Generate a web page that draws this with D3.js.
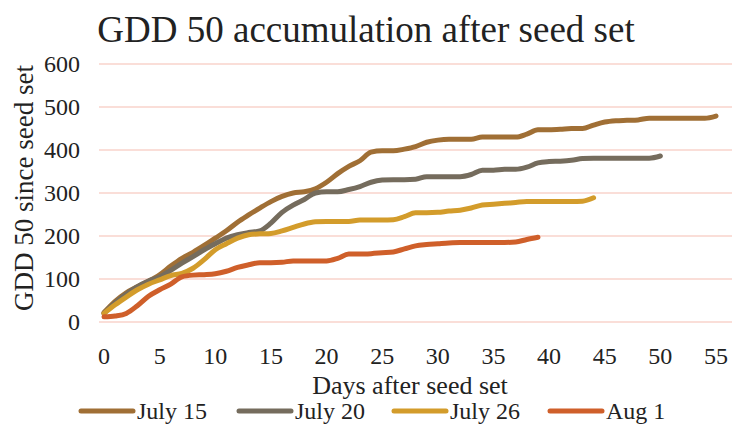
<!DOCTYPE html>
<html>
<head>
<meta charset="utf-8">
<script src="https://cdn.jsdelivr.net/npm/d3@7"></script>
<style>
  body { margin: 0; background: #fff; }
  text { font-family: "Liberation Serif", "Times New Roman", serif; fill: #222; }
</style>
</head>
<body>
<div id="chart"></div>
<script>
var w = 732;
var h = 426;

// data, one value per day after seed set
var seriesNames = ["July 15", "July 20", "July 26", "Aug 1"];
var seriesColors = ["#A06F35", "#756C5D", "#D39C2B", "#CF5F2A"];
var july15 = [22,48,68,82,95,110,130,148,162,178,195,212,232,249,265,280,292,300,303,310,325,345,362,375,395,398,398,402,408,418,423,425,425,425,430,430,430,430,437,447,447,448,450,450,458,465,468,469,470,474,474,474,474,474,474,479];
var july20 = [20,45,65,82,95,105,120,137,152,168,182,195,203,208,212,230,255,272,285,300,303,303,308,315,325,330,331,331,332,338,338,338,338,343,353,353,355,355,360,370,373,374,376,380,381,381,381,381,381,381,386];
var july26 = [20,40,58,75,88,98,108,113,125,145,168,182,195,203,205,206,212,220,228,233,234,234,234,237,237,237,238,245,254,254,255,258,260,265,272,274,276,278,280,280,280,280,280,281,289];
var aug1 = [12,14,20,38,60,75,88,105,109,110,112,118,127,133,138,138,139,142,142,142,142,148,158,158,159,161,163,170,177,180,182,184,185,185,185,185,185,186,192,197];
var allSeries = [july15, july20, july26, aug1];
var xTicks = [0,5,10,15,20,25,30,35,40,45,50,55];
var yTicks = [0,100,200,300,400,500,600];

var svg = d3.select("#chart").append("svg").attr("width", w).attr("height", h);

var x = d3.scaleLinear().domain([0, 55]).range([104, 716]);
var y = d3.scaleLinear().domain([0, 600]).range([322, 64]);

// gridlines
svg.append("g").selectAll("line").data(yTicks).enter().append("line")
  .attr("x1", 99).attr("x2", 732)
  .attr("y1", function(d){ return y(d); })
  .attr("y2", function(d){ return y(d); })
  .attr("stroke", "#F8D3CB").attr("stroke-width", 1.5);

// y tick labels
svg.append("g").selectAll("text").data(yTicks).enter().append("text")
  .text(function(d){ return d; })
  .attr("x", 80).attr("y", function(d){ return y(d) + 8; })
  .attr("text-anchor", "end").attr("font-size", 24);

// x tick labels
svg.append("g").selectAll("text").data(xTicks).enter().append("text")
  .text(function(d){ return d; })
  .attr("x", function(d){ return x(d); }).attr("y", 364)
  .attr("text-anchor", "middle").attr("font-size", 24);

// lines
var line = d3.line()
  .x(function(d, i){ return x(i); })
  .y(function(d){ return y(d); })
  .curve(d3.curveMonotoneX);

svg.append("g").selectAll("path").data(allSeries).enter().append("path")
  .attr("d", line)
  .attr("fill", "none")
  .attr("stroke", function(d, i){ return seriesColors[i]; })
  .attr("stroke-width", 5)
  .attr("stroke-linecap", "round")
  .attr("stroke-linejoin", "round");

// title and axis titles
svg.append("text").text("GDD 50 accumulation after seed set")
  .attr("x", 366).attr("y", 42).attr("text-anchor", "middle").attr("font-size", 37);

svg.append("text").text("Days after seed set")
  .attr("x", 410).attr("y", 394).attr("text-anchor", "middle").attr("font-size", 26);

svg.append("text").text("GDD 50 since seed set")
  .attr("transform", "translate(33,188) rotate(-90)")
  .attr("text-anchor", "middle").attr("font-size", 27);

// legend
var legX = [79, 237, 392, 548];
var leg = svg.append("g").selectAll("g").data(seriesNames).enter().append("g")
  .attr("transform", function(d, i){ return "translate(" + legX[i] + ",411)"; });
leg.append("line").attr("x1", 2).attr("x2", 54).attr("y1", 0).attr("y2", 0)
  .attr("stroke", function(d, i){ return seriesColors[i]; })
  .attr("stroke-width", 5).attr("stroke-linecap", "round");
leg.append("text").text(function(d){ return d; })
  .attr("x", 58).attr("y", 8).attr("font-size", 24);
</script>
</body>
</html>
